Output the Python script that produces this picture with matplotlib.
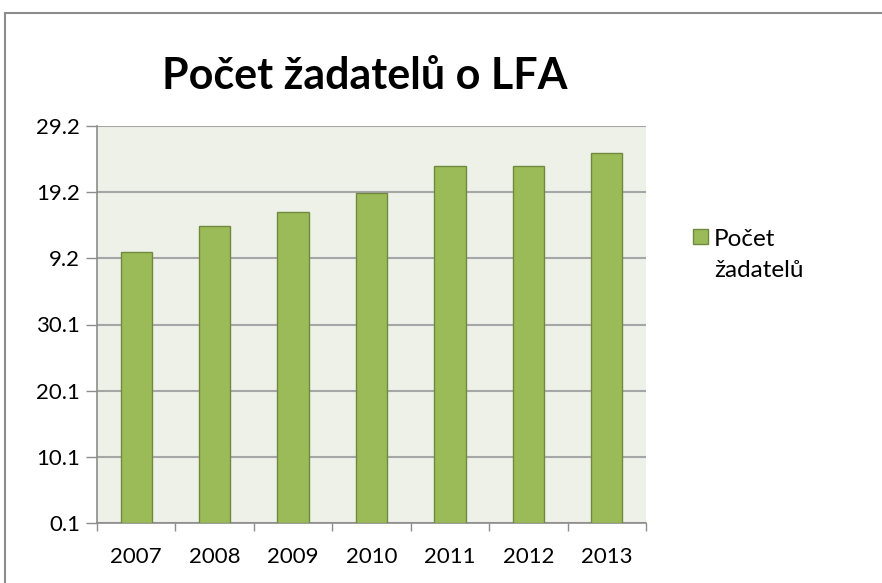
import matplotlib
matplotlib.use("Agg")
import matplotlib.pyplot as plt
from matplotlib.lines import Line2D
from matplotlib.patches import Rectangle

plt.rcParams['font.family'] = ['Lato', 'DejaVu Sans']

years = ['2007', '2008', '2009', '2010', '2011', '2012', '2013']
values = [4.10, 4.49, 4.70, 4.99, 5.40, 5.40, 5.59]
ytick_labels = ['0.1', '10.1', '20.1', '30.1', '9.2', '19.2', '29.2']
title = 'Počet žadatelů o LFA'
series_name = 'Počet\nžadatelů'

W, H = 882, 583
fig = plt.figure(figsize=(W / 100, H / 100), dpi=100)
fig.patch.set_facecolor('white')

# outer chart border (top & left visible)
fig.add_artist(Line2D([5/W, 5/W], [0, 1 - 13/H], transform=fig.transFigure,
                      color='#8c8c8c', lw=1.5))
fig.add_artist(Line2D([5/W, 1], [1 - 13/H, 1 - 13/H], transform=fig.transFigure,
                      color='#8c8c8c', lw=1.5))

ax = fig.add_axes([97/W, 1 - 523/H, (646 - 97)/W, (523 - 126)/H])
ax.set_facecolor('#EEF1E8')

x = range(len(years))
ax.bar(x, values, width=0.4, color='#9BBB59', edgecolor='#71893F', linewidth=1.0,
       zorder=3, label=series_name)

ax.set_xlim(-0.5, len(years) - 0.5)
ax.set_ylim(0, 6)
ax.set_yticks(range(len(ytick_labels)))
ax.set_yticklabels(ytick_labels)
ax.yaxis.grid(True, color='#A6A6A6', linewidth=1.5, zorder=1)
ax.set_axisbelow(True)

ax.set_xticks(list(x))
ax.set_xticklabels(years)
ax.set_xticks([i - 0.5 for i in range(len(years) + 1)], minor=True)
ax.tick_params(axis='x', which='major', length=0, pad=17, labelsize=16, colors='black')
ax.tick_params(axis='x', which='minor', length=6, width=1, color='#8c8c8c', direction='out')
ax.tick_params(axis='y', length=8, width=1, color='#8c8c8c', labelsize=16, pad=4,
               direction='out')

for s in ['top', 'right']:
    ax.spines[s].set_visible(False)
ax.spines['left'].set_color('#8c8c8c')
ax.spines['left'].set_linewidth(1.2)
ax.spines['bottom'].set_color('#8c8c8c')
ax.spines['bottom'].set_linewidth(1.2)

fig.text(365/W, 1 - 76/H, title, ha='center', va='center', fontsize=31,
         fontweight='bold')

# legend (entry drawn with handle aligned to first line, as in the reference)
fig.add_artist(Rectangle((693/W, 1 - 244/H), 15/W, 15/H, transform=fig.transFigure,
                         facecolor='#9BBB59', edgecolor='#71893F', linewidth=1.0))
fig.text(714/W, 1 - 246/H, series_name.split('\n')[0], ha='left', va='baseline',
         fontsize=17.5)
fig.text(714/W, 1 - 277/H, series_name.split('\n')[1], ha='left', va='baseline',
         fontsize=17.5)

fig.savefig('out.png', dpi=100)
